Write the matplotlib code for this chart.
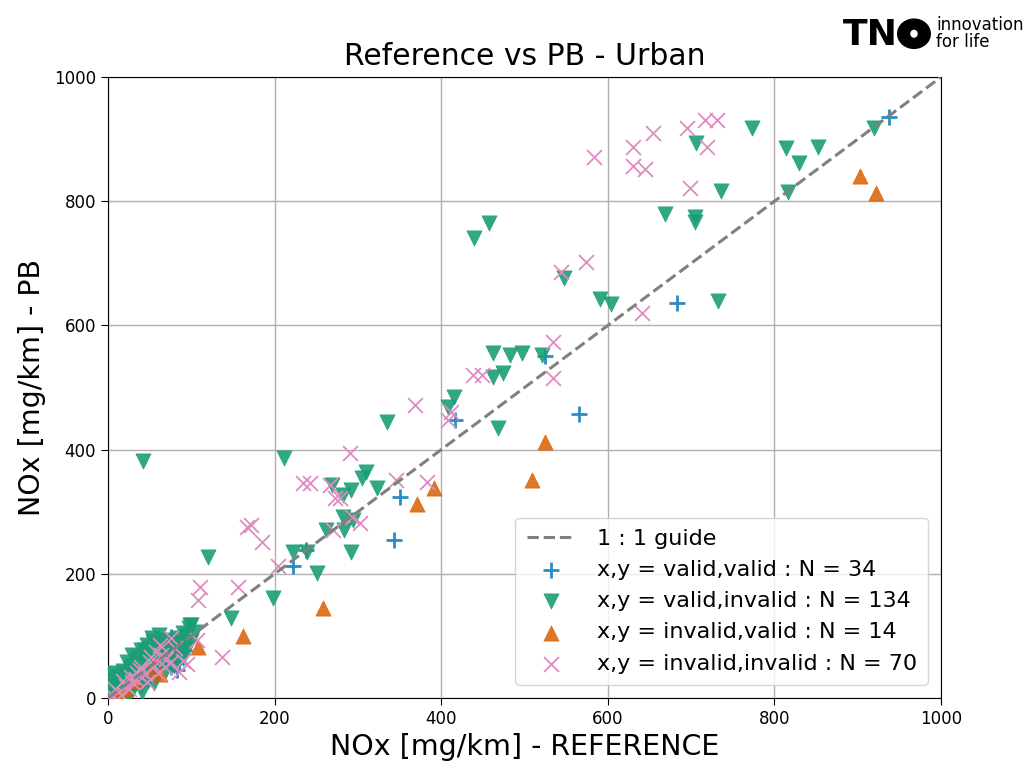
import matplotlib
matplotlib.use("Agg")
import matplotlib.pyplot as plt
from matplotlib.patches import Ellipse

# valid, valid
vv_x = [938, 683, 565, 525, 417, 350, 343, 238, 222, 76, 91, 85, 76, 83,
        5, 8, 12, 15, 18, 22, 25, 28, 32, 35, 40, 45, 48, 52, 55, 60, 63, 68, 72, 80]
vv_y = [935, 636, 457, 550, 448, 324, 254, 239, 212, 98, 77, 56, 50, 45,
        3, 6, 10, 14, 12, 20, 22, 30, 28, 36, 38, 44, 50, 47, 58, 62, 55, 72, 66, 85]

# valid, invalid
vi_x = [773, 706, 920, 814, 852, 829, 816, 736, 669, 705, 705, 547, 591, 604, 732,
        457, 439, 462, 483, 497, 521,
        462, 474, 415, 408, 335, 468, 211, 310, 305, 269, 292, 282, 323, 282, 294,
        262, 283, 292, 120, 222, 239, 251, 198, 148, 98, 42,
        100, 104, 97, 61, 53, 47, 40, 29, 23, 5, 6, 14, 70, 55, 41, 25, 26, 35, 44, 54,
        60, 66, 72, 78, 84, 90, 95, 68, 74, 80, 86, 92, 58, 63, 50, 45, 38, 33, 28, 20,
        15, 10, 3, 8, 12, 18, 22, 30, 36, 42, 48, 52, 57, 64, 70, 76, 82, 88, 94, 99,
        65, 60, 50, 45, 38, 32, 26, 19, 11, 4, 2, 7, 16, 24, 34, 43, 53, 62, 72, 79,
        85, 90, 56, 48, 40, 30, 20]
vi_y = [918, 894, 918, 886, 887, 861, 815, 816, 779, 775, 767, 676, 642, 634, 639,
        765, 741, 555, 552, 556, 552,
        517, 523, 485, 469, 445, 435, 386, 364, 354, 343, 335, 327, 338, 291, 287,
        270, 270, 235, 227, 235, 235, 201, 161, 129, 117, 382,
        118, 107, 112, 101, 97, 85, 77, 69, 58, 40, 21, 8, 45, 24, 10, 5, 48, 64, 77, 90,
        92, 88, 94, 90, 96, 104, 99, 80, 78, 74, 82, 88, 70, 66, 62, 55, 50, 42, 36, 30,
        25, 18, 12, 30, 35, 44, 40, 52, 58, 66, 72, 80, 84, 76, 68, 62, 66, 72, 80, 92,
        55, 48, 40, 34, 28, 22, 18, 12, 6, 3, 25, 10, 20, 26, 32, 44, 52, 60, 56, 52,
        60, 65, 36, 28, 20, 14, 6]

# invalid, valid
iv_x = [903, 922, 525, 509, 391, 371, 258, 162, 108, 53, 20, 32, 12, 62]
iv_y = [840, 813, 412, 351, 338, 312, 145, 100, 82, 48, 15, 28, 6, 38]

# invalid, invalid
ii_x = [583, 630, 630, 645, 654, 695, 717, 731, 719, 698, 544, 574, 641, 534,
        534, 369, 408, 412, 438, 449, 291, 234, 242, 266, 272, 279, 346, 383, 293, 303,
        270, 167, 171, 185, 204, 110, 108, 156, 137, 107,
        76, 58, 52, 35, 47, 29, 85, 90, 95, 70, 64, 80, 40, 44, 22, 18, 12, 8, 5, 15,
        25, 33, 38, 55, 60, 68, 75, 62, 50, 28]
ii_y = [871, 887, 857, 852, 910, 918, 930, 930, 888, 822, 686, 702, 620, 573,
        515, 472, 448, 460, 520, 520, 395, 346, 346, 343, 322, 322, 351, 348, 291, 282,
        271, 276, 278, 251, 213, 178, 158, 179, 66, 93,
        97, 74, 66, 40, 26, 26, 42, 60, 55, 62, 70, 80, 50, 38, 20, 28, 10, 14, 4, 5,
        15, 30, 45, 52, 40, 50, 58, 85, 58, 34]

guide = [0, 1000]
ticks = [0, 200, 400, 600, 800, 1000]

fig = plt.figure(figsize=(10.31, 7.67), dpi=100)
ax = fig.add_axes([0.1048, 0.09, 0.808, 0.8096])

ax.plot(guide, guide, ls="--", color="#808080", lw=2.2, label="1 : 1 guide", zorder=5)
ax.scatter(vv_x, vv_y, marker="+", s=130, linewidths=2, color="#2b8cc4",
           label=f"x,y = valid,valid : N = {len(vv_x)}", zorder=3)
ax.scatter(vi_x, vi_y, marker="v", s=120, color="#1b9e77", alpha=0.9, linewidths=0.5,
           label=f"x,y = valid,invalid : N = {len(vi_x)}", zorder=3)
ax.scatter(iv_x, iv_y, marker="^", s=120, color="#d95f02", alpha=0.85, linewidths=0.5,
           label=f"x,y = invalid,valid : N = {len(iv_x)}", zorder=3)
ax.scatter(ii_x, ii_y, marker="x", s=115, linewidths=1.3, color="#de8cc0",
           label=f"x,y = invalid,invalid : N = {len(ii_x)}", zorder=4)

ax.set_xlim(0, 1000)
ax.set_ylim(0, 1000)
ax.set_xticks(ticks)
ax.set_yticks(ticks)
ax.tick_params(labelsize=12, length=5)
ax.grid(True, color="#b0b0b0", lw=1)
ax.set_axisbelow(True)
ax.set_title("Reference vs PB - Urban", fontsize=21.5, pad=9)
ax.set_xlabel("NOx [mg/km] - REFERENCE", fontsize=20.5, labelpad=4)
ax.set_ylabel("NOx [mg/km] - PB", fontsize=20.5, labelpad=6)
ax.legend(loc="lower right", fontsize=16, framealpha=0.8, borderaxespad=0.6,
          handletextpad=0.95, handlelength=2.2, borderpad=0.5)

# logo
fig.text(0.818, 0.955, "TN", fontsize=26, fontweight="black", color="black",
         ha="left", va="center")
logo_ax = fig.add_axes([0.870, 0.935, 0.033, 0.042])
logo_ax.set_xlim(0, 1)
logo_ax.set_ylim(0, 1)
logo_ax.axis("off")
logo_ax.add_patch(Ellipse((0.5, 0.5), 1.0, 0.95, facecolor="black"))
logo_ax.add_patch(Ellipse((0.5, 0.5), 0.22, 0.25, facecolor="white"))
fig.text(0.908, 0.956, "innovation\nfor life", fontsize=12, color="black",
         ha="left", va="center", linespacing=0.9)

fig.savefig("out.png", dpi=100)
